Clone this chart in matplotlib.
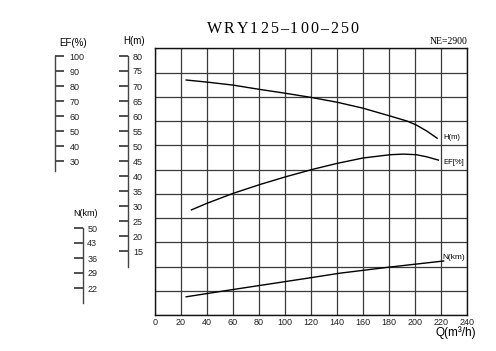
import matplotlib
matplotlib.use("Agg")
import matplotlib.pyplot as plt
import numpy as np

# curve data
q_h = [24, 40, 60, 80, 100, 120, 140, 160, 180, 194, 201, 209, 217]
h_vals = [72.0, 71.3, 70.3, 68.9, 67.6, 66.2, 64.6, 62.6, 60.1, 58.3, 57.0, 55.0, 52.6]

q_ef = [28, 40, 60, 81, 101, 122, 140, 160, 181, 191, 201, 209, 218]
ef_vals = [28.7, 30.9, 34.2, 37.2, 39.8, 42.3, 44.2, 46.0, 47.1, 47.3, 47.1, 46.4, 45.3]  # drawn on H grid

q_n = [24, 58, 122, 142, 181, 222]
n_vals = [17.9, 21.1, 27.0, 28.9, 31.8, 34.6]

x_ticks = list(range(0, 241, 20))
ef_ticks = [100, 90, 80, 70, 60, 50, 40, 30]
h_ticks = [80, 75, 70, 65, 60, 55, 50, 45, 40, 35, 30, 25, 20, 15]
n_ticks = [50, 43, 36, 29, 22]

W, H = 496, 351
fig = plt.figure(figsize=(W / 100, H / 100), dpi=100)
plt.rcParams['font.family'] = ['Liberation Sans', 'DejaVu Sans']

top, bot = 48.3, 315.0
fb = 1 - bot / H
fh = (bot - top) / H

def lims(ref_val, ref_px, px_per_unit):
    return (ref_val - (bot - ref_px) / px_per_unit, ref_val + (ref_px - top) / px_per_unit)

h_lim = lims(80, 56, 3.0)
ef_lim = lims(100, 56, 1.5)
n_lim = lims(50, 228, 15 / 7)

ax = fig.add_axes([155 / W, fb, 312 / W, fh])
ax.set_xlim(0, 240)
ax.set_ylim(*h_lim)
ax.set_xticks(x_ticks)
ax.set_yticks(np.linspace(h_lim[0], h_lim[1], 12))
ax.set_yticklabels([])
ax.tick_params(axis='both', length=0, labelsize=6.5, labelcolor='#222', pad=2.5)
ax.grid(True, color='#3a3a3a', lw=0.9)
for s in ax.spines.values():
    s.set_color('#111')
    s.set_linewidth(1)

ax.plot(q_h, h_vals, color='black', lw=1)
ax.plot(q_ef, ef_vals, color='black', lw=1)
axn = ax.twinx()
axn.set_ylim(*n_lim)
axn.axis('off')
axn.plot(q_n, n_vals, color='black', lw=1)

ax.text(222, h_vals[-1] + 0.3, 'H(m)', fontsize=5.5, va='center', ha='left')
ax.text(222, ef_vals[-1] - 0.9, 'EF[%]', fontsize=5.5, va='center', ha='left')
axn.text(221, n_vals[-1] + 1.8, 'N(km)', fontsize=6, va='center', ha='left')

# separate scales on the left
def scale_axis(x_px, lim, ticks, lo, hi, side, pad):
    a = fig.add_axes([x_px / W, fb, 1e-4, fh])
    a.set_ylim(*lim)
    a.set_xticks([])
    a.patch.set_visible(False)
    for k, s in a.spines.items():
        s.set_visible(k == side)
    a.spines[side].set_bounds(lo, hi)
    a.spines[side].set_color('#444')
    a.spines[side].set_linewidth(1)
    a.set_yticks(ticks)
    a.set_yticklabels([str(t) for t in ticks])
    a.tick_params(axis='y', direction='in', length=6.3, width=1.1, color='#222',
                  left=(side == 'left'), right=(side == 'right'),
                  labelleft=False, labelright=True, labelsize=6.5, labelcolor='#222', pad=pad)
    return a

scale_axis(55, ef_lim, ef_ticks, 23.5, 100, 'left', 10.5)
scale_axis(128, h_lim, h_ticks, 9.67, 80, 'right', 3.5)
scale_axis(83, n_lim, n_ticks, 15.0, 50, 'right', 3.0)

def px_text(x, y, s, **kw):
    return fig.text(x / W, 1 - y / H, s, **kw)

px_text(73, 42.5, 'EF(%)', fontsize=7, ha='center', va='center')
px_text(134, 41.5, 'H(m)', fontsize=7, ha='center', va='center')
px_text(85, 213.5, 'N(km)', fontsize=6.5, ha='center', va='center')
px_text(468, 41.5, 'NE=2900', fontsize=7, ha='right', va='center',
        family='Liberation Serif')
px_text(476, 333, 'Q(m³/h)', fontsize=8.5, ha='right', va='center')

# title with a little letter spacing, placed one character at a time
title = 'WRY125–100–250'
gap = 2.0
renderer = fig.canvas.get_renderer()
chars = [px_text(0, 29, c, fontsize=11.5, ha='left', va='center', family='Liberation Serif')
         for c in title]
widths = [t.get_window_extent(renderer).width for t in chars]
total = sum(widths) + gap * (len(chars) - 1)
x = 282.5 - total / 2
for t, w in zip(chars, widths):
    t.set_x(x / W)
    x += w + gap

fig.savefig('out.png', dpi=100)
